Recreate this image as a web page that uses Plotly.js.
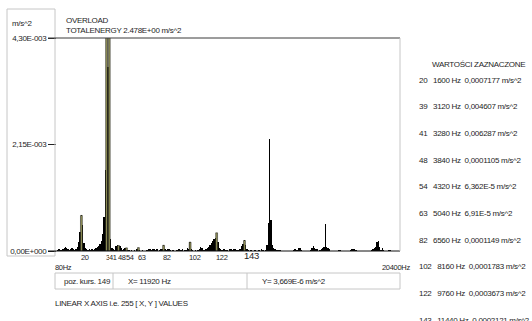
<!DOCTYPE html>
<html>
<head>
<meta charset="utf-8">
<script src="https://cdn.plot.ly/plotly-3.0.1.min.js"></script>
<style>html,body{margin:0;padding:0;background:#fff;}#chart{width:532px;height:321px;}text{letter-spacing:-0.3px;}</style>
</head>
<body>
<div id="chart"></div>
<script>
// ---- data ----
// amplitude per spectral line (m/s^2), lines 1..255, 80 Hz per line
const amplitude = [
 4e-5,2e-5,4e-5,2e-5,2e-5,4e-5,6e-5,8e-5,6e-5,4e-5,
 2e-5,4e-5,6e-5,4e-5,2e-5,4e-5,8e-5,1.8e-4,3.8e-4,7.177e-4,
 5.2e-4,1.6e-4,6e-5,4e-5,2e-5,4e-5,2e-5,4e-5,2e-5,4e-5,
 6e-5,8e-5,1e-4,1.4e-4,2e-4,3.4e-4,6.9e-4,1.64e-3,4.607e-3,3.71e-3,
 6.287e-3,2.4e-4,6e-5,4e-5,2e-5,1e-4,1.2e-4,1.105e-4,1e-4,6e-5,
 2e-5,4e-5,6e-5,6.362e-5,2e-5,2e-5,4e-6,2e-5,4e-6,2e-5,
 4e-6,4e-5,6.91e-5,2e-5,4e-6,2e-5,4e-6,4e-6,2e-5,2e-5,
 4e-5,4e-5,2e-5,4e-5,4e-5,2e-5,4e-5,4e-6,2e-5,4e-5,
 4e-5,1.149e-4,4e-5,2e-5,4e-5,4e-5,2e-5,4e-6,2e-5,4e-6,
 4e-6,2e-5,4e-5,4e-5,2e-5,4e-5,4e-6,2e-5,2e-5,6e-5,
 4e-5,1.783e-4,4e-5,2e-5,4e-6,2e-5,4e-6,2e-5,4e-5,8e-5,
 6e-5,2e-5,2e-5,4e-5,6e-5,8e-5,1.2e-4,1.6e-4,2e-4,2.4e-4,
 2.6e-4,3.673e-4,1.8e-4,6e-5,4e-5,2e-5,4e-5,4e-5,2e-5,2e-5,
 4e-6,4e-5,4e-5,2e-5,4e-5,4e-5,2e-5,2e-5,4e-5,4e-5,
 1e-4,1.4e-4,2.121e-4,1.2e-4,4e-5,2e-5,4e-6,2e-5,3.669e-6,4e-6,
 2e-5,4e-6,4e-6,2e-5,4e-6,4e-5,2e-5,4e-6,2e-5,1.2e-4,
 5.7e-4,2.26e-3,6.3e-4,1.2e-4,6e-5,4e-5,2e-5,2e-5,2e-5,2e-5,
 4e-6,4e-6,4e-6,4e-6,4e-6,4e-6,4e-6,4e-6,4e-6,2e-5,
 4e-5,2e-5,2e-5,6e-5,6e-5,2e-5,4e-6,4e-6,4e-6,4e-6,
 4e-6,4e-6,2e-5,6e-5,1e-4,6e-5,4e-5,4e-5,4e-6,2e-5,
 4e-5,6e-5,8e-5,5.5e-4,8e-5,6e-5,4e-5,4e-6,4e-6,4e-6,
 4e-6,4e-6,4e-6,2e-5,2e-5,4e-6,4e-6,4e-6,4e-6,4e-6,
 4e-6,4e-6,2e-5,4e-5,4e-5,4e-5,2e-5,4e-6,4e-6,4e-6,
 4e-6,4e-6,4e-6,4e-6,4e-6,4e-6,4e-6,4e-6,2e-5,4e-5,
 6e-5,8e-5,1.8e-4,2e-4,8e-5,2e-5,6e-5,2e-5,4e-6,4e-6,
 4e-6,2e-5,2e-5,4e-6,4e-6
];
const lines = amplitude.map((v, i) => i + 1);

const markedBins   = [20, 39, 41, 48, 54, 63, 82, 102, 122, 143];
const markedFreqHz = [1600, 3120, 3280, 3840, 4320, 5040, 6560, 8160, 9760, 11440];
const markedValues = [0.0007177, 0.004607, 0.006287, 0.0001105, 6.362e-5, 6.91e-5, 0.0001149, 0.0001783, 0.0003673, 0.0002121];
const markedValueText = ["0,0007177", "0,004607", "0,006287", "0,0001105", "6,362E-5", "6,91E-5", "0,0001149", "0,0001783", "0,0003673", "0,0002121"];

const yTickVals = [0, 0.00215, 0.0043];
const yTickText = ["0,00E+000", "2,15E-003", "4,30E-003"];

// ---- layout helpers (pixel -> paper) ----
const L = 57, R = 400, T = 38, B = 251;
const px = x => (x - L) / (R - L);
const py = y => (B - y) / (B - T);
const FONT = "Liberation Sans, Arial, sans-serif";
const TXT = '#1e1e1e';
const NB = '\u00a0';

const ann = [];
function txt(text, x, y, anchor, size) {
  ann.push({xref:'paper', yref:'paper', x:px(x), y:py(y), text:text, showarrow:false,
    xanchor:anchor||'left', yanchor:'middle', borderpad:0, borderwidth:0,
    font:{family:FONT, size:size||8, color:TXT}});
}

txt('m/s^2', 12, 23);
txt('OVERLOAD', 66, 21);
txt('TOTALENERGY 2.478E+00 m/s^2', 66, 31);
txt('80Hz', 55, 267, 'left', 7.5);
txt('20400Hz', 410, 267, 'right', 7.5);
txt('poz. kurs. 149', 111, 281, 'right');
txt('X= 11920 Hz', 128, 281);
txt('Y= 3,669E-6 m/s^2', 262, 281);
txt('LINEAR X AXIS i.e. 255 [ X, Y ] VALUES', 55, 303);
txt('WARTOŚCI ZAZNACZONE', 432, 64);

markedBins.forEach((b, i) => {
  // list on the right
  txt(b + NB + NB + NB + markedFreqHz[i] + ' Hz' + NB + NB + markedValueText[i] + ' m/s^2', 419, 80 + i * 26.7);
  // labels under the marked bars
  const big = (b === 143);
  ann.push({xref:'x', yref:'paper', x:b - 0.5, y:py(big ? 255.5 : 257), text:String(b), showarrow:false,
    xanchor:'left', yanchor:'middle', borderpad:0, borderwidth:0, bgcolor:big ? 'rgba(0,0,0,0)' : '#fff',
    font:{family:FONT, size:big ? 9.5 : 7.5, color:TXT}});
});

const shapes = [
  // left panel
  {type:'rect', xref:'paper', yref:'paper', x0:px(7), x1:px(55), y0:py(256), y1:py(9), line:{color:'#c6c6c6', width:1}},
  // top line at full scale
  {type:'line', xref:'paper', yref:'paper', x0:px(48), x1:1, y0:1, y1:1, line:{color:'#3a3a3a', width:1}},
  // baseline
  {type:'line', xref:'paper', yref:'paper', x0:px(48), x1:1, y0:0, y1:0, line:{color:'#111', width:1}},
  // right border
  {type:'line', xref:'paper', yref:'paper', x0:1, x1:1, y0:0, y1:1, line:{color:'#c6c6c6', width:1}},
  // info box
  {type:'rect', xref:'paper', yref:'paper', x0:px(55), x1:px(400), y0:py(289), y1:py(273), line:{color:'#c6c6c6', width:1}},
  {type:'line', xref:'paper', yref:'paper', x0:px(113), x1:px(113), y0:py(289), y1:py(273), line:{color:'#c6c6c6', width:1}},
  {type:'line', xref:'paper', yref:'paper', x0:px(247), x1:px(247), y0:py(289), y1:py(273), line:{color:'#c6c6c6', width:1}}
];

const traces = [
  {type:'bar', x:lines, y:amplitude, width:1, marker:{color:'#000', line:{width:0}}, hoverinfo:'skip'},
  {type:'bar', x:markedBins, y:markedValues, width:1.4, marker:{color:'#94945a', line:{color:'#111', width:0.5}}, hoverinfo:'skip'}
];

const layout = {
  width:532, height:321,
  margin:{l:L, r:532 - R, t:T, b:321 - B, pad:0},
  paper_bgcolor:'#fff', plot_bgcolor:'#fff',
  showlegend:false, barmode:'overlay', bargap:0,
  font:{family:FONT, size:8, color:TXT},
  xaxis:{range:[1.6, 260.3], showticklabels:false, ticks:'', showgrid:false, zeroline:false, showline:false, fixedrange:true},
  yaxis:{range:[0, 0.0043], tickvals:yTickVals, ticktext:yTickText, ticks:'outside', ticklen:8, tickcolor:'#222', tickwidth:1,
         showgrid:false, zeroline:false, showline:false, tickfont:{family:FONT, size:8, color:TXT}, fixedrange:true},
  shapes:shapes, annotations:ann
};

Plotly.newPlot('chart', traces, layout, {staticPlot:true, displayModeBar:false});
</script>
</body>
</html>
